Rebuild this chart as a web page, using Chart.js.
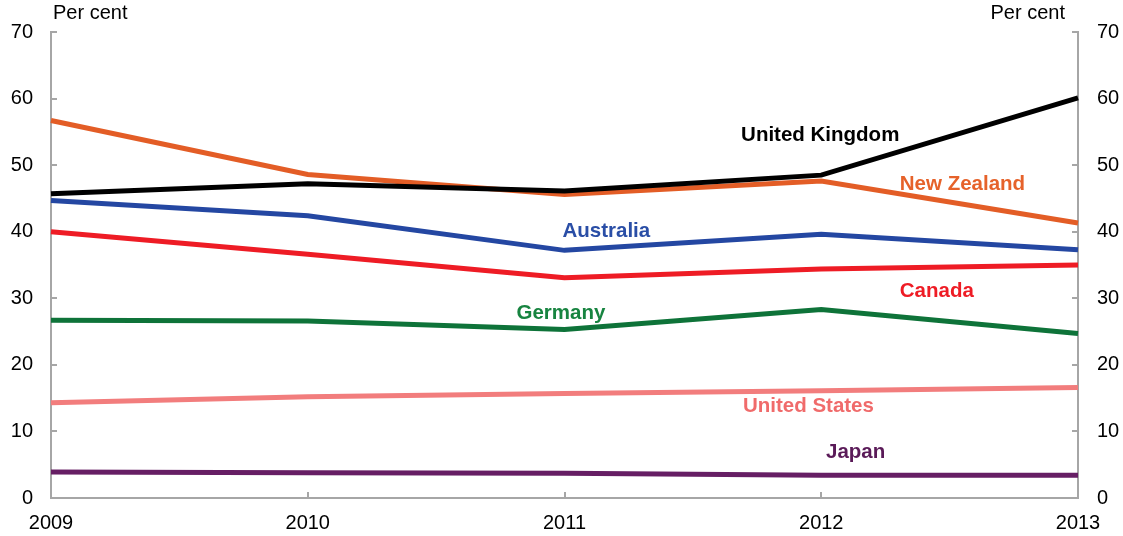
<!DOCTYPE html>
<html>
<head>
<meta charset="utf-8">
<script src="https://cdn.jsdelivr.net/npm/chart.js@4"></script>
<style>
  html, body { margin: 0; padding: 0; background: #fff; }
  #wrap { width: 1123px; height: 536px; position: relative; }
</style>
</head>
<body>
<div id="wrap"><canvas id="c" width="1123" height="536"></canvas></div>
<script>
const years = ['2009', '2010', '2011', '2012', '2013'];
const unitedKingdom = [45.7, 47.2, 46.1, 48.5, 60.1];
const newZealand    = [56.7, 48.6, 45.6, 47.6, 41.3];
const australia     = [44.7, 42.4, 37.2, 39.6, 37.3];
const canada        = [40.0, 36.6, 33.1, 34.4, 35.0];
const germany       = [26.7, 26.6, 25.3, 28.3, 24.7];
const unitedStates  = [14.3, 15.2, 15.7, 16.1, 16.6];
const japan         = [3.9, 3.8, 3.7, 3.4, 3.4];
const yTicks = [0, 10, 20, 30, 40, 50, 60, 70];

const seriesNames = ['United Kingdom', 'New Zealand', 'Australia', 'Canada', 'Germany', 'United States', 'Japan'];
const seriesData = [unitedKingdom, newZealand, australia, canada, germany, unitedStates, japan];
const lineColors = ['#000000', '#E35D26', '#2447A2', '#EE1C25', '#0E7339', '#F27D7D', '#661E64'];
const textColors = ['#000000', '#E6622A', '#2A4EA6', '#EE1C25', '#178440', '#F06B6B', '#5A1A58'];
// label anchors in data coordinates (category index, value)
const labelAnchors = [[2.996, 54.5], [3.55, 47.1], [2.163, 40.1], [3.45, 31.1], [1.986, 27.8], [2.95, 13.7], [3.134, 6.8]];

const AXIS = '#a6a6a6';
const FONT = "'Liberation Sans', Arial, sans-serif";

const overlay = {
  id: 'overlay',
  beforeDatasetsDraw(chart) {
    const ctx = chart.ctx;
    const x = chart.scales.x, yl = chart.scales.y, yr = chart.scales.y2;
    ctx.save();
    ctx.strokeStyle = AXIS;
    ctx.lineWidth = 2;
    ctx.beginPath();
    yTicks.forEach(v => {
      const py = Math.round(yl.getPixelForValue(v));
      ctx.moveTo(yl.right, py); ctx.lineTo(yl.right + 6, py);
      const py2 = Math.round(yr.getPixelForValue(v));
      ctx.moveTo(yr.left, py2); ctx.lineTo(yr.left - 6, py2);
    });
    years.forEach((yr_, i) => {
      if (i === 0 || i === years.length - 1) return;
      const px = Math.round(x.getPixelForValue(i));
      ctx.moveTo(px, x.top); ctx.lineTo(px, x.top - 6);
    });
    ctx.stroke();
    ctx.restore();
  },
  afterDraw(chart) {
    const ctx = chart.ctx;
    const x = chart.scales.x, yl = chart.scales.y, yr = chart.scales.y2;
    ctx.save();
    ctx.fillStyle = '#000';
    ctx.font = '20px ' + FONT;
    ctx.textBaseline = 'middle';
    ctx.textAlign = 'left';
    ctx.fillText('Per cent', yl.right + 2, 13);
    ctx.textAlign = 'right';
    ctx.fillText('Per cent', yr.left - 13, 13);

    ctx.font = 'bold 20.5px ' + FONT;
    ctx.textAlign = 'center';
    seriesNames.forEach((n, i) => {
      const a = labelAnchors[i];
      ctx.fillStyle = textColors[i];
      ctx.fillText(n, x.getPixelForValue(a[0]), yl.getPixelForValue(a[1]));
    });
    ctx.restore();
  }
};

const tickFont = { family: FONT, size: 20 };

new Chart(document.getElementById('c'), {
  type: 'line',
  data: {
    labels: years,
    datasets: seriesNames.map((n, i) => ({
      label: n,
      data: seriesData[i],
      borderColor: lineColors[i],
      backgroundColor: lineColors[i],
      borderWidth: 5,
      pointRadius: 0,
      tension: 0,
      fill: false,
      clip: false,
      yAxisID: 'y'
    }))
  },
  options: {
    responsive: false,
    animation: false,
    devicePixelRatio: 1,
    layout: { padding: { top: 32, left: 0, right: 0, bottom: 0 } },
    plugins: { legend: { display: false }, tooltip: { enabled: false } },
    scales: {
      x: {
        type: 'category',
        offset: false,
        grid: { display: false, drawTicks: false },
        border: { display: true, color: AXIS, width: 2 },
        ticks: { color: '#000', font: tickFont, padding: 13, maxRotation: 0, autoSkip: false },
        afterFit(s) { s.height = 38; }
      },
      y: {
        position: 'left',
        min: 0, max: 70,
        afterBuildTicks(s) { s.ticks = yTicks.map(v => ({ value: v })); },
        grid: { display: false, drawTicks: false },
        border: { display: true, color: AXIS, width: 2 },
        ticks: { color: '#000', font: tickFont, padding: 18 },
        afterFit(s) { s.width = 51; }
      },
      y2: {
        position: 'right',
        min: 0, max: 70,
        afterBuildTicks(s) { s.ticks = yTicks.map(v => ({ value: v })); },
        grid: { display: false, drawTicks: false },
        border: { display: true, color: AXIS, width: 2 },
        ticks: { color: '#000', font: tickFont, padding: 19 },
        afterFit(s) { s.width = 45; }
      }
    }
  },
  plugins: [overlay]
});
</script>
</body>
</html>
